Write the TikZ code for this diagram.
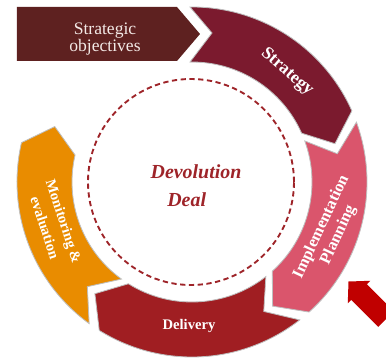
\documentclass[tikz,border=0pt]{standalone}
\usepackage{amsmath}
\usepackage{fontspec}
\setmainfont{Liberation Serif}
\usepackage{tikz}

\definecolor{objbrown}{HTML}{5E2120}
\definecolor{objtext}{HTML}{F3E9E6}
\definecolor{stratred}{HTML}{7B1A2E}
\definecolor{planpink}{HTML}{DA556C}
\definecolor{delivred}{HTML}{A01E22}
\definecolor{monorange}{HTML}{E98C00}
\definecolor{dealred}{HTML}{9E2429}
\definecolor{pointred}{HTML}{C00000}

\begin{document}
\begin{tikzpicture}[x=0.03cm,y=0.03cm,
            segment/.style={fill=#1,draw=black!25,line width=0.7pt}]
            \useasboundingbox (-192,-179) rectangle (194,182);
            \clip (-192,-179) rectangle (194,182);
            \begin{scope}
                \fill[objbrown] (-175,175) -- (-15,175) -- (8,148) -- (-15,121) -- (-175,121) -- cycle;
                \path[segment=stratred] (90.65:175) arc[start angle=90.65,end angle=24,radius=175] -- (15:148) -- (24:120) arc[start angle=24,end angle=90.95,radius=120] -- (20,149) -- cycle;
                \path[segment=planpink] (20:175) arc[start angle=20,end angle=-48,radius=175] -- (-57:148) -- (-48:120) arc[start angle=-48,end angle=20,radius=120] -- (11:148) -- cycle;
                \path[segment=delivred] (-52:175) arc[start angle=-52,end angle=-122,radius=175] -- (-131:148) -- (-122:120) arc[start angle=-122,end angle=-52,radius=120] -- (-61:148) -- cycle;
                \path[segment=monorange] (-126:175) arc[start angle=-126,end angle=-193,radius=175] -- (-202:148) -- (-193:120) arc[start angle=-193,end angle=-126,radius=120] -- (-135:148) -- cycle;
            \end{scope}
            \draw[dealred,line width=1.6pt,dash pattern=on 4.5pt off 3pt] (-1,0) circle[radius=103];
            \fill[pointred] (156.5,-99.5) -- (178.4,-98.8) -- (174.9,-102.3) -- (201.8,-129.2) -- (186.2,-144.8) -- (159.3,-117.9) -- (155.8,-121.4) -- cycle;

            \node[text=objtext,font=\fontsize{15}{15}\selectfont,align=center] (objectives) at (-87,143) {Strategic\\objectives};
            \begin{scope}[every node/.style={text=dealred,font=\bfseries\itshape\fontsize{17}{20}\selectfont,anchor=base}]
                \node (devolution) at (4,3.7) {Devolution};
                \node (deal) at (-5.3,-24.7) {Deal};
            \end{scope}
            \begin{scope}[every node/.style={text=white,font=\bfseries\fontsize{13}{16}\selectfont,align=center}]
                \node[rotate=-41,font=\bfseries\fontsize{15}{16}\selectfont] (strategy) at (95,110) {Strategy};
                \node[rotate=65,font=\bfseries\fontsize{14}{16}\selectfont] (planning) at (138,-49) {Implementation\\Planning};
                \node[font=\bfseries\fontsize{12.5}{16}\selectfont] (delivery) at (-3,-144) {Delivery};
                \node[rotate=-72,font=\bfseries\fontsize{12.5}{17}\selectfont] (monitoring) at (-137.5,-42.5) {Monitoring \&\\evaluation};
            \end{scope}
        \end{tikzpicture}
\end{document}
